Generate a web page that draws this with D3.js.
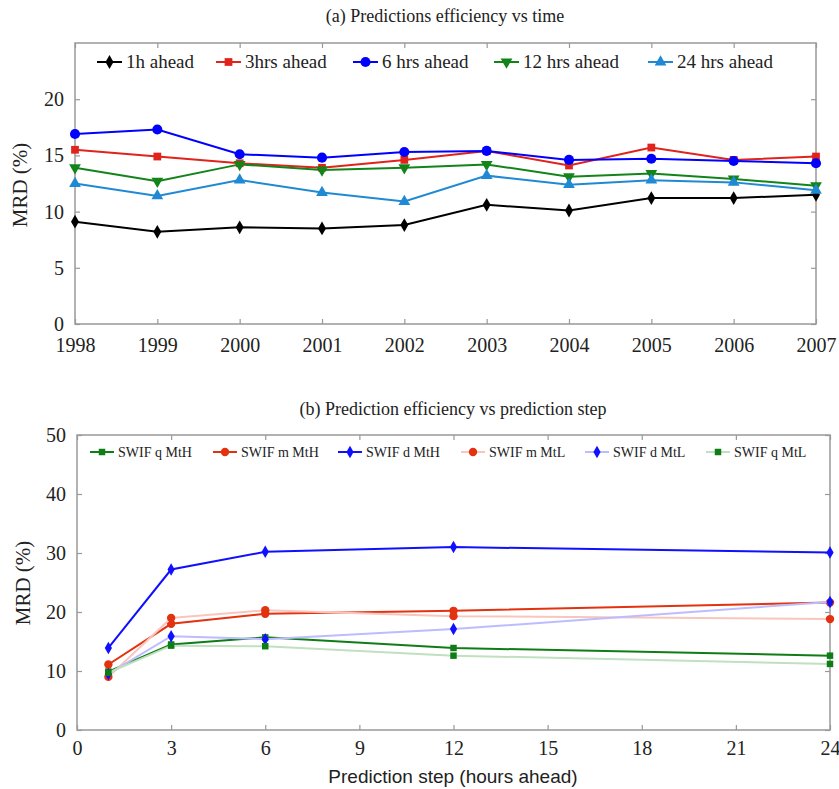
<!DOCTYPE html>
<html>
<head>
<meta charset="utf-8">
<script src="https://cdn.jsdelivr.net/npm/d3@7"></script>
<style>
body { margin: 0; background: #fff; }
</style>
</head>
<body>
<svg id="chart" width="839" height="789"></svg>
<script>
// ---- data: (a) predictions efficiency vs time ----
var years = [1998, 1999, 2000, 2001, 2002, 2003, 2004, 2005, 2006, 2007];
var ahead1h  = [9.1, 8.2, 8.6, 8.5, 8.8, 10.6, 10.1, 11.2, 11.2, 11.5];
var ahead3h  = [15.5, 14.9, 14.3, 13.9, 14.6, 15.4, 14.1, 15.7, 14.6, 14.9];
var ahead6h  = [16.9, 17.3, 15.1, 14.8, 15.3, 15.4, 14.6, 14.7, 14.5, 14.3];
var ahead12h = [13.9, 12.7, 14.2, 13.7, 13.9, 14.2, 13.1, 13.4, 12.9, 12.3];
var ahead24h = [12.5, 11.4, 12.8, 11.7, 10.9, 13.2, 12.4, 12.8, 12.6, 11.9];
var yTicksA = [0, 5, 10, 15, 20];

// ---- data: (b) prediction efficiency vs prediction step ----
var steps = [1, 3, 6, 12, 24];
var qMtH = [9.9, 14.5, 15.7, 13.9, 12.6];
var mMtH = [11.1, 18.0, 19.7, 20.2, 21.6];
var dMtH = [13.9, 27.2, 30.2, 31.0, 30.1];
var mMtL = [9.0, 19.0, 20.3, 19.3, 18.8];
var dMtL = [9.5, 15.9, 15.4, 17.1, 21.7];
var qMtL = [9.7, 14.3, 14.2, 12.6, 11.2];
var xTicksB = [0, 3, 6, 9, 12, 15, 18, 21, 24];
var yTicksB = [0, 10, 20, 30, 40, 50];

var SERIF = "'Liberation Serif', 'Times New Roman', serif";
var SANS = "'Liberation Sans', Arial, sans-serif";

var svg = d3.select("#chart");
var frameColor = "#999";

var seriesA = [
    {name: "1h ahead", values: ahead1h, color: "#000000", symbol: d3.symbolDiamond, size: 55, rot: 0, lx: 97},
    {name: "3hrs ahead", values: ahead3h, color: "#e0231b", symbol: d3.symbolSquare, size: 60, rot: 0, lx: 216},
    {name: "6 hrs ahead", values: ahead6h, color: "#0000ff", symbol: d3.symbolCircle, size: 80, rot: 0, lx: 353},
    {name: "12 hrs ahead", values: ahead12h, color: "#12841a", symbol: d3.symbolTriangle, size: 60, rot: 180, lx: 494},
    {name: "24 hrs ahead", values: ahead24h, color: "#1f8ad3", symbol: d3.symbolTriangle, size: 60, rot: 0, lx: 648}
];

var seriesB = [
    {name: "SWIF q MtH", values: qMtH, color: "#0f7d16", mark: "#0f7d16", symbol: d3.symbolSquare, size: 42, lx: 90},
    {name: "SWIF m MtH", values: mMtH, color: "#e2320f", mark: "#e2320f", symbol: d3.symbolCircle, size: 55, lx: 213},
    {name: "SWIF d MtH", values: dMtH, color: "#1010ff", mark: "#1010ff", symbol: d3.symbolDiamond, size: 45, lx: 338},
    {name: "SWIF m MtL", values: mMtL, color: "#f8c6bc", mark: "#e2320f", symbol: d3.symbolCircle, size: 55, lx: 461},
    {name: "SWIF d MtL", values: dMtL, color: "#bcbcff", mark: "#1010ff", symbol: d3.symbolDiamond, size: 45, lx: 585},
    {name: "SWIF q MtL", values: qMtL, color: "#c0e0c0", mark: "#0f7d16", symbol: d3.symbolSquare, size: 42, lx: 706}
];

// draw the frame + inward ticks on all four sides
function drawFrame(g, x, y, xTicks, yTicks, xPad) {
    var left = x.range()[0], right = x.range()[1];
    var top = y.range()[1], bottom = y.range()[0];

    var bottomAxis = d3.axisBottom(x).tickValues(xTicks).tickSize(-5).tickPadding(xPad).tickFormat(d3.format("d"));
    var topAxis = d3.axisTop(x).tickValues(xTicks).tickSize(-5).tickFormat("");
    var leftAxis = d3.axisLeft(y).tickValues(yTicks).tickSize(-5).tickPadding(11);
    var rightAxis = d3.axisRight(y).tickValues(yTicks).tickSize(-5).tickFormat("");

    var gb = g.append("g").attr("transform", "translate(0," + bottom + ")").call(bottomAxis);
    var gt = g.append("g").attr("transform", "translate(0," + top + ")").call(topAxis);
    var gl = g.append("g").attr("transform", "translate(" + left + ",0)").call(leftAxis);
    var gr = g.append("g").attr("transform", "translate(" + right + ",0)").call(rightAxis);

    [gb, gt, gl, gr].forEach(function(a) {
        a.attr("font-family", SERIF).attr("font-size", 20);
        a.select(".domain").remove();
        a.selectAll(".tick line").attr("stroke", frameColor).attr("stroke-width", 1.2);
        a.selectAll("text").attr("fill", "#222");
    });

    g.append("rect")
        .attr("x", left).attr("y", top)
        .attr("width", right - left).attr("height", bottom - top)
        .attr("fill", "none").attr("stroke", frameColor).attr("stroke-width", 1.5);
}

// ---------------- panel (a) ----------------
var xa = d3.scalePoint().domain(years).range([75, 816]);
var ya = d3.scaleLinear().domain([0, 25]).range([324, 43]);
var ga = svg.append("g").attr("font-family", SERIF).attr("fill", "#222");

drawFrame(ga, xa, ya, years, yTicksA, 14);
ga.append("text").attr("x", 445).attr("y", 22).attr("text-anchor", "middle")
    .attr("font-size", 18).text("(a) Predictions efficiency vs time");
ga.append("text").attr("transform", "translate(27,185) rotate(-90)")
    .attr("text-anchor", "middle").attr("font-size", 21).text("MRD (%)");

var lineA = d3.line()
    .x(function(d, i) { return xa(years[i]); })
    .y(function(d) { return ya(d); });

seriesA.forEach(function(s) {
    ga.append("path").datum(s.values)
        .attr("d", lineA).attr("fill", "none")
        .attr("stroke", s.color).attr("stroke-width", 2);
});
seriesA.forEach(function(s) {
    ga.selectAll(null).data(s.values).enter().append("path")
        .attr("d", d3.symbol().type(s.symbol).size(s.size))
        .attr("transform", function(d, i) { return "translate(" + xa(years[i]) + "," + ya(d) + ") rotate(" + s.rot + ")"; })
        .attr("fill", s.color);
});

// legend (a)
seriesA.forEach(function(s) {
    var lg = ga.append("g").attr("transform", "translate(" + s.lx + ",62)");
    lg.append("line").attr("x1", 0).attr("x2", 25).attr("y1", 0).attr("y2", 0)
        .attr("stroke", s.color).attr("stroke-width", 2);
    lg.append("path").attr("d", d3.symbol().type(s.symbol).size(s.size))
        .attr("transform", "translate(12.5,0) rotate(" + s.rot + ")").attr("fill", s.color);
    lg.append("text").attr("x", 29).attr("y", 6).attr("font-size", 19).text(s.name);
});

// ---------------- panel (b) ----------------
var xb = d3.scaleLinear().domain([0, 24]).range([77, 830]);
var yb = d3.scaleLinear().domain([0, 50]).range([730, 435]);
var gbp = svg.append("g").attr("font-family", SERIF).attr("fill", "#222");

drawFrame(gbp, xb, yb, xTicksB, yTicksB, 11);
gbp.append("text").attr("x", 453).attr("y", 415).attr("text-anchor", "middle")
    .attr("font-size", 18).text("(b) Prediction efficiency vs prediction step");
gbp.append("text").attr("transform", "translate(30,583) rotate(-90)")
    .attr("text-anchor", "middle").attr("font-size", 21).text("MRD (%)");
gbp.append("text").attr("x", 453).attr("y", 783).attr("text-anchor", "middle")
    .attr("font-size", 19).attr("font-family", SANS)
    .text("Prediction step (hours ahead)");

var lineB = d3.line()
    .x(function(d, i) { return xb(steps[i]); })
    .y(function(d) { return yb(d); });

seriesB.forEach(function(s) {
    gbp.append("path").datum(s.values)
        .attr("d", lineB).attr("fill", "none")
        .attr("stroke", s.color).attr("stroke-width", 2);
    gbp.selectAll(null).data(s.values).enter().append("path")
        .attr("d", d3.symbol().type(s.symbol).size(s.size))
        .attr("transform", function(d, i) { return "translate(" + xb(steps[i]) + "," + yb(d) + ")"; })
        .attr("fill", s.mark);
});

// legend (b)
seriesB.forEach(function(s) {
    var lg = gbp.append("g").attr("transform", "translate(" + s.lx + ",452)");
    lg.append("line").attr("x1", 0).attr("x2", 24).attr("y1", 0).attr("y2", 0)
        .attr("stroke", s.color).attr("stroke-width", 2);
    lg.append("path").attr("d", d3.symbol().type(s.symbol).size(s.size))
        .attr("transform", "translate(12,0)").attr("fill", s.mark);
    lg.append("text").attr("x", 28).attr("y", 5).attr("font-size", 14).text(s.name);
});
</script>
</body>
</html>
